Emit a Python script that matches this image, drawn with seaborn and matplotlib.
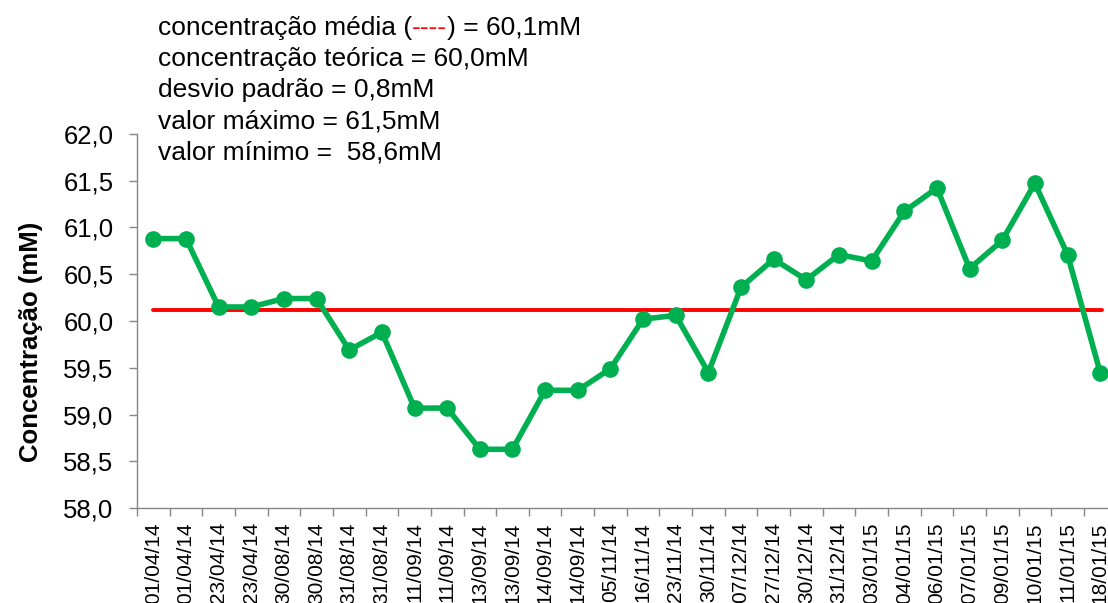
import numpy as np
import pandas as pd
import matplotlib
matplotlib.use("Agg")
import matplotlib.pyplot as plt
import seaborn as sns
from matplotlib.ticker import FixedLocator, FuncFormatter

# datas das medições (rótulos do eixo x)
datas = ['01/04/14', '01/04/14', '23/04/14', '23/04/14', '30/08/14', '30/08/14',
         '31/08/14', '31/08/14', '11/09/14', '11/09/14', '13/09/14', '13/09/14',
         '14/09/14', '14/09/14', '05/11/14', '16/11/14', '23/11/14', '30/11/14',
         '07/12/14', '27/12/14', '30/12/14', '31/12/14', '03/01/15', '04/01/15',
         '06/01/15', '07/01/15', '09/01/15', '10/01/15', '11/01/15', '18/01/15']

# concentração medida (mM)
concentracao = [60.88, 60.88, 60.15, 60.15, 60.24, 60.24,
                59.69, 59.88, 59.07, 59.07, 58.63, 58.63,
                59.26, 59.26, 59.49, 60.02, 60.06, 59.45,
                60.36, 60.66, 60.44, 60.71, 60.64, 61.17,
                61.42, 60.56, 60.86, 61.47, 60.71, 59.45]

media = 60.12
textos = ['concentração média (', '----', ') = 60,1mM']
info = ['concentração teórica = 60,0mM',
        'desvio padrão = 0,8mM',
        'valor máximo = 61,5mM',
        'valor mínimo =  58,6mM']

dados = pd.DataFrame({'pos': np.arange(len(datas)), 'conc': concentracao})

sns.set_style('white')
plt.rcParams['font.family'] = ['Liberation Sans', 'DejaVu Sans']
plt.rcParams['text.color'] = 'black'
plt.rcParams['axes.labelcolor'] = 'black'

W, H = 1108, 603
fig = plt.figure(figsize=(W / 100, H / 100), dpi=100)
ax = fig.add_axes([137 / W, 1 - 508.3 / H, 979.5 / W, 374.6 / H])

# linha da média
ax.plot([0, len(datas) - 1 + 0.05], [media, media], color='#FF0000', lw=2.8, zorder=2)

sns.lineplot(data=dados, x='pos', y='conc', color='#00B050', lw=4,
             marker='o', markersize=12, markeredgewidth=0, ax=ax, zorder=3)

ax.set_xlim(-0.5, len(datas) - 0.5)
ax.set_ylim(58, 62)
ax.set_yticks(np.arange(58, 62.01, 0.5))
ax.yaxis.set_major_formatter(FuncFormatter(lambda v, p: f'{v:.1f}'.replace('.', ',')))
ax.set_xticks(np.arange(len(datas)))
ax.set_xticklabels(datas, rotation=90, fontsize=15)
ax.xaxis.set_minor_locator(FixedLocator(np.arange(-0.5, len(datas), 1)))
ax.tick_params(axis='x', which='major', length=0, pad=10, labelcolor='black')
ax.tick_params(axis='x', which='minor', length=6, color='#868686', width=1, bottom=True)
ax.tick_params(axis='y', labelsize=18.5, length=6, color='#868686', width=1,
               left=True, pad=11, labelcolor='black')
ax.set_xlabel('')
ax.set_ylabel('Concentração (mM)', fontsize=18.5, fontweight='bold')
ax.yaxis.set_label_coords(-0.096, 0.444)

for s in ['top', 'right']:
    ax.spines[s].set_visible(False)
for s in ['left', 'bottom']:
    ax.spines[s].set_color('#868686')
    ax.spines[s].set_linewidth(1)

# bloco de texto no topo
x0 = 158 / W
y0 = 1 - 28 / H
dy = 31.2 / H
fs = 19
t1 = fig.text(x0, y0, textos[0], fontsize=fs, va='center')
fig.canvas.draw()
r = fig.canvas.get_renderer()
bb = t1.get_window_extent(r)
t2 = fig.text(bb.x1 / W, y0, textos[1], fontsize=fs, va='center', color='#FF0000')
bb2 = t2.get_window_extent(r)
fig.text(bb2.x1 / W, y0, textos[2], fontsize=fs, va='center')
for i, linha in enumerate(info):
    fig.text(x0, y0 - (i + 1) * dy, linha, fontsize=fs, va='center')

fig.savefig('out.png', dpi=100)
